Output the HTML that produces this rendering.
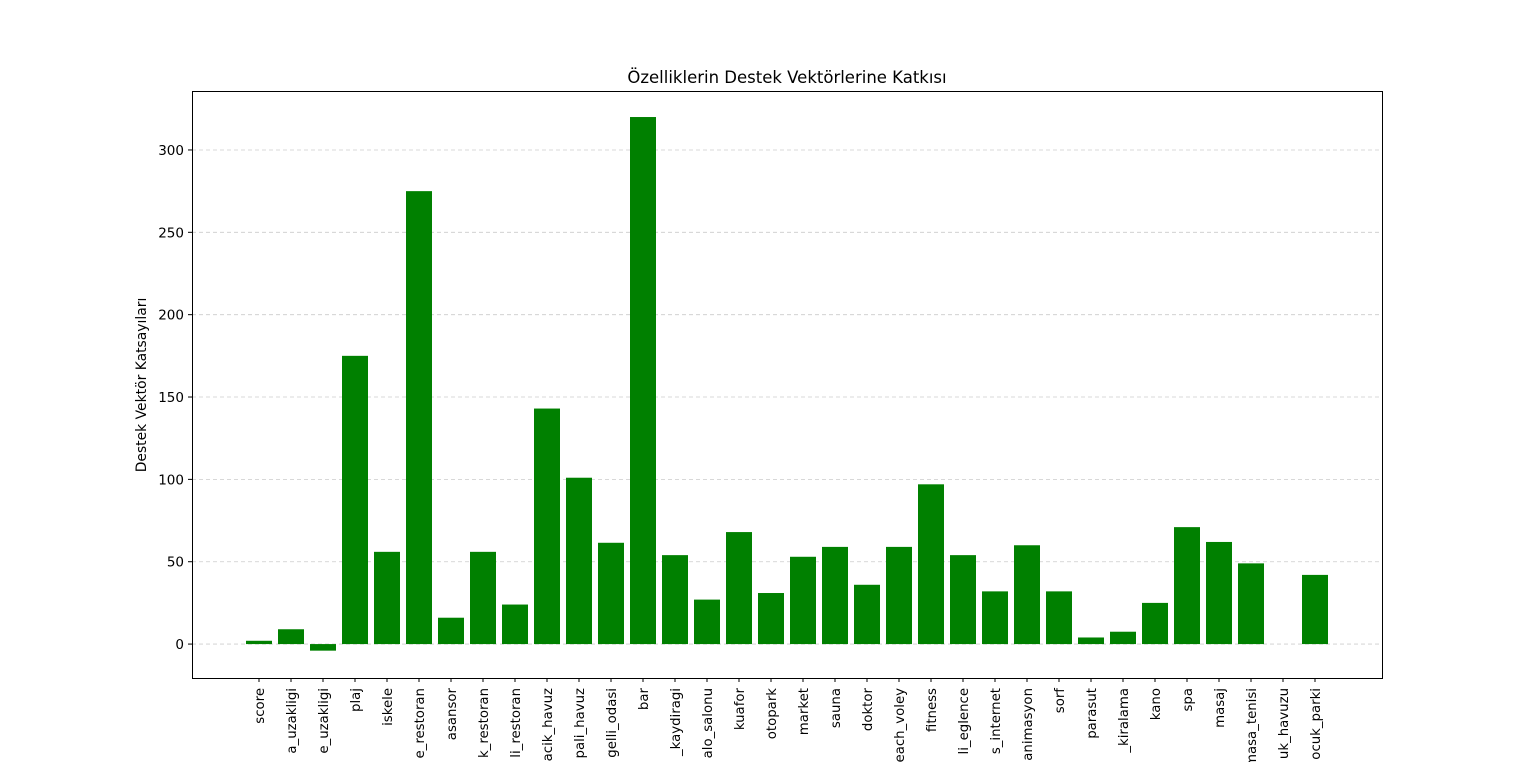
<!DOCTYPE html>
<html><head><meta charset="utf-8"><style>
body{margin:0;background:#fff;width:1536px;height:762px;overflow:hidden;font-family:"DejaVu Sans","Liberation Sans",sans-serif}
</style></head><body>
<svg id="chart" width="1536" height="762" xmlns="http://www.w3.org/2000/svg" font-family="DejaVu Sans, Liberation Sans, sans-serif" style="overflow:hidden">
<defs><clipPath id="frameclip"><rect x="0" y="0" width="1536" height="762"/></clipPath></defs>
<text x="787" y="83" font-size="16.5" text-anchor="middle">Özelliklerin Destek Vektörlerine Katkısı</text>
<text transform="translate(146,385) rotate(-90)" font-size="13.9" text-anchor="middle">Destek Vektör Katsayıları</text>
<g id="grid"></g><g id="bars"></g><g id="yticks"></g><g id="xticks" clip-path="url(#frameclip)"></g>
<rect x="192.5" y="91.5" width="1190" height="587" fill="none" stroke="#000" stroke-width="1"/>
</svg>
<script>
const categories=["score","a_uzakligi","e_uzakligi","plaj","iskele","e_restoran","asansor","k_restoran","li_restoran","acik_havuz","pali_havuz","gelli_odasi","bar","_kaydiragi","alo_salonu","kuafor","otopark","market","sauna","doktor","each_voley","fitness","li_eglence","s_internet","animasyon","sorf","parasut","_kiralama","kano","spa","masaj","masa_tenisi","uk_havuzu","ocuk_parki"];
const values=[2,9,-4,175,56,275,16,56,24,143,101,61.5,320,54,27,68,31,53,59,36,59,97,54,32,60,32,4,7.5,25,71,62,49,0,42];
const yTicks=[0,50,100,150,200,250,300];
const NS="http://www.w3.org/2000/svg";
const yMin=-20.6,yMax=335.8,plotTop=91,plotBot=678;
function y(v){return plotBot-(v-yMin)/(yMax-yMin)*(plotBot-plotTop);}
function x(i){return 259+i*32;}
function mk(t,a,p){const e=document.createElementNS(NS,t);for(const k in a)e.setAttribute(k,a[k]);p.appendChild(e);return e;}
const g=document.getElementById('grid'),b=document.getElementById('bars'),yt=document.getElementById('yticks'),xt=document.getElementById('xticks');
yTicks.forEach(v=>{
 const l=mk('line',{x1:192,x2:1382,y1:y(v),y2:y(v),stroke:'#ccc','stroke-dasharray':'4,3','stroke-width':0.8},g);
 
 
 const tk=mk('line',{x1:188,x2:192,y1:y(v),y2:y(v),stroke:'#000'},yt);
 
 
 const t=mk('text',{x:184,y:y(v)+5,'font-size':13.5,'text-anchor':'end'},yt);t.textContent=v;
 
 
});
categories.forEach((c,i)=>{
 const v=values[i],y0=y(0),y1=y(v);
 const r=mk('rect',{x:x(i)-13,width:26,y:Math.min(y0,y1),height:Math.abs(y1-y0),fill:'#008000'},b);
 
 
 const tk=mk('line',{x1:x(i),x2:x(i),y1:678,y2:682,stroke:'#000'},xt);
 
 
 const t=mk('text',{transform:`translate(${x(i)+5},688) rotate(-90)`,'font-size':13.3,'text-anchor':'end'},xt);t.textContent=c;
 
 
});
</script>
</body></html>
